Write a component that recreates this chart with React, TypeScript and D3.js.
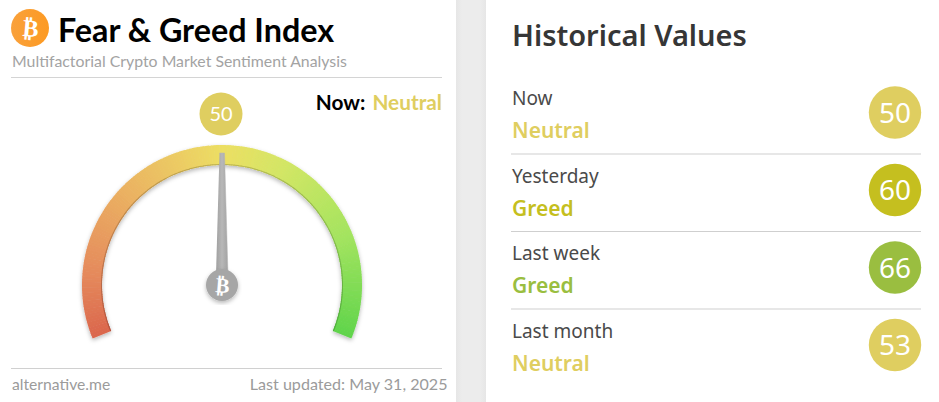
import React, { useEffect, useRef } from 'react';
import * as d3 from 'd3';

const width = 939;
const height = 402;

// gauge reading
const gaugeValue = 50;
const gaugeDomain = [0, 100];
const gaugeStops = [0, 12, 30, 50, 62, 80, 100];
const gaugeStopColors = ['#db674d', '#e58a5c', '#ebb362', '#ecdf64', '#d3e665', '#a4e45f', '#5fd44b'];

// history table
const rowLabels = ['Now', 'Yesterday', 'Last week', 'Last month'];
const rowClasses = ['Neutral', 'Greed', 'Greed', 'Neutral'];
const rowValues = [50, 60, 66, 53];
const rowColors = ['#dfce60', '#c5bf1f', '#9abe40', '#dfce60'];

const LEFT_FONT = 'Lato, sans-serif';
const RIGHT_FONT = '"Noto Sans", sans-serif';

const App: React.FC = () => {
  const svgRef = useRef<SVGSVGElement>(null);

  useEffect(() => {
    if (!svgRef.current) return;
    const svg = d3.select(svgRef.current);
    svg.selectAll('*').remove();
    svg.attr('viewBox', [0, 0, width, height]).attr('width', width).attr('height', height);

    const defs = svg.append('defs');
    const shadow = defs.append('filter').attr('id', 'arc-shadow')
      .attr('x', '-10%').attr('y', '-10%').attr('width', '120%').attr('height', '120%');
    shadow.append('feDropShadow').attr('dx', 0).attr('dy', 2).attr('stdDeviation', 2)
      .attr('flood-color', '#000').attr('flood-opacity', 0.28);

    const coin = defs.append('linearGradient').attr('id', 'coin').attr('x1', 0).attr('x2', 1);
    coin.append('stop').attr('offset', 0).attr('stop-color', '#f9a13c');
    coin.append('stop').attr('offset', 1).attr('stop-color', '#fd9a22');

    const needleFill = defs.append('linearGradient').attr('id', 'needle-fill').attr('x1', 0).attr('x2', 1);
    needleFill.append('stop').attr('offset', 0).attr('stop-color', '#9f9f9f');
    needleFill.append('stop').attr('offset', 0.5).attr('stop-color', '#b8b8b8');
    needleFill.append('stop').attr('offset', 1).attr('stop-color', '#a2a2a2');

    const gutter = defs.append('linearGradient').attr('id', 'gutter').attr('x1', 0).attr('x2', 1);
    gutter.append('stop').attr('offset', 0).attr('stop-color', '#e6e6e6');
    gutter.append('stop').attr('offset', 0.2).attr('stop-color', '#ececec');
    gutter.append('stop').attr('offset', 0.8).attr('stop-color', '#ececec');
    gutter.append('stop').attr('offset', 1).attr('stop-color', '#e6e6e6');

    svg.append('rect').attr('width', width).attr('height', height).attr('fill', '#fff');
    svg.append('rect').attr('x', 456).attr('width', 30).attr('height', height).attr('fill', 'url(#gutter)');

    // header
    svg.append('circle').attr('cx', 30).attr('cy', 28).attr('r', 19).attr('fill', 'url(#coin)');
    svg.append('text').attr('transform', 'translate(30,36.5) rotate(5)')
      .attr('text-anchor', 'middle').attr('font-family', 'DejaVu Sans').attr('font-weight', 700)
      .attr('font-size', 24).attr('fill', '#fff').text('₿');
    svg.append('text').attr('x', 58).attr('y', 42)
      .attr('font-family', LEFT_FONT).attr('font-weight', 700).attr('font-size', 32.3)
      .attr('fill', '#000').text('Fear & Greed Index');
    svg.append('text').attr('x', 12).attr('y', 67)
      .attr('font-family', LEFT_FONT).attr('font-size', 15.85).attr('fill', '#a3a3a3')
      .text('Multifactorial Crypto Market Sentiment Analysis');
    svg.append('line').attr('x1', 11).attr('x2', 442).attr('y1', 77.5).attr('y2', 77.5)
      .attr('stroke', '#d4d4d4').attr('stroke-width', 1);

    const nowLabel = svg.append('text').attr('x', 442).attr('y', 110).attr('text-anchor', 'end')
      .attr('font-family', LEFT_FONT).attr('font-weight', 700).attr('font-size', 20.8);
    nowLabel.append('tspan').attr('fill', '#000').text('Now:');
    nowLabel.append('tspan').attr('dx', 7).attr('fill', rowColors[0]).text(rowClasses[0]);

    // value badge
    const cx = 222;
    const cy = 285;
    svg.append('circle').attr('cx', 221).attr('cy', 114).attr('r', 21.5).attr('fill', rowColors[0]);
    svg.append('text').attr('x', 221).attr('y', 121).attr('text-anchor', 'middle')
      .attr('font-family', LEFT_FONT).attr('font-size', 20).attr('fill', '#fff').text(gaugeValue);

    // gauge
    const maxAngle = (112.5 * Math.PI) / 180;
    const angle = d3.scaleLinear().domain(gaugeDomain).range([-maxAngle, maxAngle]);
    const color = d3.scaleLinear<string>().domain(gaugeStops).range(gaugeStopColors)
      .interpolate(d3.interpolateRgb);
    const steps = d3.range(gaugeDomain[0], gaugeDomain[1], 0.5);
    const arc = d3.arc<number>()
      .innerRadius(120)
      .outerRadius(140)
      .startAngle(d => angle(d))
      .endAngle(d => angle(Math.min(d + 0.6, gaugeDomain[1])));
    const innerEdge = d3.arc<number>()
      .innerRadius(120)
      .outerRadius(121)
      .startAngle(d => angle(d))
      .endAngle(d => angle(Math.min(d + 0.6, gaugeDomain[1])));
    const gauge = svg.append('g').attr('transform', `translate(${cx},${cy})`);
    const band = gauge.append('g').attr('filter', 'url(#arc-shadow)');
    band.selectAll('path.fill').data(steps).join('path').attr('class', 'fill')
      .attr('d', d => arc(d) as string)
      .attr('fill', d => color(d));
    // darker rim along the inside of the band
    band.selectAll('path.rim').data(steps).join('path').attr('class', 'rim')
      .attr('d', d => innerEdge(d) as string)
      .attr('fill', d => d3.rgb(color(d)).darker(0.6).formatRgb());

    // needle
    const needle = gauge.append('g')
      .attr('transform', `rotate(${(angle(gaugeValue) * 180) / Math.PI})`);
    const needleLine = d3.line();
    needle.append('path')
      .attr('d', needleLine([[-2.5, -132], [2.5, -132], [6, -10], [-6, -10]]))
      .attr('fill', 'url(#needle-fill)').attr('stroke', '#b5b5b5').attr('stroke-width', 0.5);
    gauge.append('circle').attr('cx', 0).attr('cy', 0).attr('r', 16)
      .attr('fill', '#a6a6a6').attr('filter', 'url(#arc-shadow)');
    gauge.append('text').attr('transform', 'translate(0,7.5) rotate(5)')
      .attr('text-anchor', 'middle').attr('font-family', 'DejaVu Sans').attr('font-weight', 700)
      .attr('font-size', 21).attr('fill', '#fff').text('₿');

    // footer
    svg.append('line').attr('x1', 11).attr('x2', 442).attr('y1', 368.5).attr('y2', 368.5)
      .attr('stroke', '#d0d0d0').attr('stroke-width', 1);
    svg.append('text').attr('x', 12).attr('y', 390)
      .attr('font-family', LEFT_FONT).attr('font-size', 15.7).attr('fill', '#9b9b9b').text('alternative.me');
    svg.append('text').attr('x', 447.5).attr('y', 390).attr('text-anchor', 'end')
      .attr('font-family', LEFT_FONT).attr('font-size', 16.1).attr('fill', '#9b9b9b').text('Last updated: May 31, 2025');

    // right panel
    svg.append('text').attr('x', 512).attr('y', 46)
      .attr('font-family', RIGHT_FONT).attr('font-weight', 600).attr('font-size', 29)
      .attr('fill', '#363636').text('Historical Values');

    const rows = d3.scaleBand<number>().domain(d3.range(rowLabels.length)).range([76, 386]);
    const row = svg.selectAll('g.row').data(rowLabels).join('g').attr('class', 'row')
      .attr('transform', (_, i) => `translate(0,${rows(i)})`);

    row.append('text').attr('x', 512).attr('y', 29)
      .attr('font-family', RIGHT_FONT).attr('font-size', 19).attr('fill', '#4a4a4a').text(d => d);
    row.append('text').attr('x', 512).attr('y', 62)
      .attr('font-family', RIGHT_FONT).attr('font-weight', 600).attr('font-size', 21)
      .attr('fill', (_, i) => rowColors[i]).text((_, i) => rowClasses[i]);
    row.append('circle').attr('cx', 895).attr('cy', 36.5).attr('r', 26.2)
      .attr('fill', (_, i) => rowColors[i]);
    row.append('text').attr('x', 895).attr('y', 46.5).attr('text-anchor', 'middle')
      .attr('font-family', RIGHT_FONT).attr('font-size', 28).attr('fill', '#fff')
      .text((_, i) => rowValues[i]);
    row.filter((_, i) => i < rowLabels.length - 1).append('line')
      .attr('x1', 511).attr('x2', 921)
      .attr('y1', rows.bandwidth() + 0.5).attr('y2', rows.bandwidth() + 0.5)
      .attr('stroke', '#cfcfcf').attr('stroke-width', 1);
  }, []);

  return (
    <div style={{ position: 'fixed', left: 0, top: 0, width, height, overflow: 'hidden' }}>
      <svg ref={svgRef} style={{ display: 'block' }} />
    </div>
  );
};

export default App;
